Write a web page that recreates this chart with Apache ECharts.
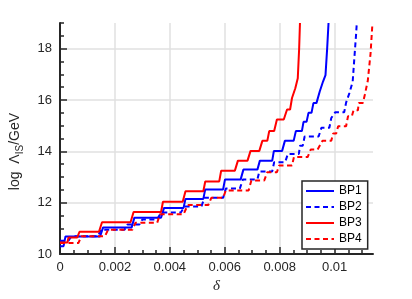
<!DOCTYPE html>
<html>
<head>
<meta charset="utf-8">
<script src="https://cdn.jsdelivr.net/npm/echarts@6/dist/echarts.min.js"></script>
<style>
html,body{margin:0;padding:0;background:#fff;}
#chart{width:412px;height:299px;}
</style>
</head>
<body>
<div id="chart"></div>
<script>
// ---- data ----
var seriesNames = ['BP1', 'BP2', 'BP3', 'BP4'];

var bp1X = [0, 0.00013, 0.0002, 0.00146, 0.00157, 0.00261, 0.00271, 0.00368, 0.00379, 0.0045, 0.00457, 0.00522, 0.00529, 0.00594, 0.00601, 0.00658, 0.00668, 0.00719, 0.00728, 0.00773, 0.00779, 0.00809, 0.00819, 0.00851, 0.00859, 0.00881, 0.00887, 0.00898, 0.00905, 0.00916, 0.00923, 0.00934, 0.00946, 0.00958, 0.00967, 0.00973, 0.00978];
var bp1Y = [10.31, 10.31, 10.69, 10.69, 11.04, 11.04, 11.42, 11.42, 11.8, 11.8, 12.15, 12.15, 12.52, 12.52, 12.91, 12.91, 13.29, 13.29, 13.64, 13.64, 14.02, 14.02, 14.41, 14.41, 14.79, 14.79, 15.15, 15.15, 15.5, 15.5, 15.88, 15.88, 16.33, 16.72, 16.97, 18.0, 19.0];

var bp2X = [0, 0.00031, 0.00042, 0.00139, 0.00149, 0.00235, 0.00246, 0.00289, 0.003, 0.00354, 0.00368, 0.0044, 0.00454, 0.00515, 0.00526, 0.00594, 0.00604, 0.00655, 0.00666, 0.00719, 0.00726, 0.00773, 0.0078, 0.0082, 0.0083, 0.0087, 0.00874, 0.00884, 0.00891, 0.00942, 0.00952, 0.00981, 0.00988, 0.00995, 0.01002, 0.01035, 0.01042, 0.01054, 0.01066, 0.01072, 0.01078, 0.01081];
var bp2Y = [10.52, 10.52, 10.7, 10.7, 10.95, 10.95, 11.15, 11.15, 11.35, 11.35, 11.62, 11.62, 11.85, 11.85, 12.19, 12.19, 12.55, 12.55, 12.91, 12.91, 13.22, 13.22, 13.58, 13.58, 13.9, 13.9, 14.22, 14.22, 14.58, 14.58, 14.92, 14.92, 15.3, 15.3, 15.52, 15.52, 15.9, 16.27, 16.72, 17.62, 18.5, 19.0];

var bp3X = [0, 0.00027, 0.00031, 0.00063, 0.00071, 0.00142, 0.00153, 0.00257, 0.00268, 0.00368, 0.00375, 0.00447, 0.00457, 0.00522, 0.00529, 0.0058, 0.00587, 0.00637, 0.00648, 0.00683, 0.00694, 0.00726, 0.00737, 0.00755, 0.00762, 0.0078, 0.0079, 0.00815, 0.00827, 0.00838, 0.00845, 0.00857, 0.00866, 0.00871, 0.00874];
var bp3Y = [10.45, 10.45, 10.65, 10.65, 10.87, 10.87, 11.24, 11.24, 11.64, 11.64, 12.04, 12.04, 12.45, 12.45, 12.83, 12.83, 13.25, 13.25, 13.64, 13.64, 14.02, 14.02, 14.41, 14.41, 14.79, 14.79, 15.24, 15.24, 15.63, 15.63, 16.08, 16.46, 16.85, 18.0, 19.0];

var bp4X = [0, 0.00067, 0.00078, 0.00164, 0.00175, 0.00264, 0.00275, 0.00354, 0.00364, 0.0045, 0.00465, 0.0054, 0.00551, 0.00594, 0.00604, 0.00687, 0.00697, 0.00744, 0.00755, 0.0079, 0.00798, 0.00845, 0.00852, 0.00902, 0.00913, 0.00938, 0.00956, 0.00988, 0.00995, 0.01006, 0.01013, 0.01042, 0.01049, 0.01063, 0.01069, 0.01085, 0.01088, 0.01103, 0.0111, 0.01121, 0.01131, 0.01138];
var bp4Y = [10.43, 10.43, 10.7, 10.7, 10.95, 10.95, 11.22, 11.22, 11.55, 11.55, 11.91, 11.91, 12.19, 12.19, 12.48, 12.48, 12.87, 12.87, 13.19, 13.19, 13.45, 13.45, 13.78, 13.78, 14.07, 14.07, 14.41, 14.41, 14.7, 14.7, 14.98, 14.98, 15.37, 15.37, 15.6, 15.6, 15.88, 15.88, 16.2, 16.75, 17.8, 19.0];

var xTickLabels = [0, 0.002, 0.004, 0.006, 0.008, 0.01];
var xMinorTicks = [0.0005, 0.001, 0.0015, 0.0025, 0.003, 0.0035, 0.0045, 0.005, 0.0055, 0.0065, 0.007, 0.0075, 0.0085, 0.009, 0.0095, 0.0105, 0.011];
var yTickLabels = [10, 12, 14, 16, 18];
var yMinorTicks = [10.5, 11, 11.5, 12.5, 13, 13.5, 14.5, 15, 15.5, 16.5, 17, 17.5, 18.5, 19];

// ---- chart ----
function zip(xs, ys) { return xs.map(function (x, i) { return [x, ys[i]]; }); }

var axisColor = '#262626';
var gridColor = '#e0e0e0';
var fontFam = '"Liberation Sans", Arial, sans-serif';
var xMin = 0, xMax = 0.0114, yMin = 10, yMax = 19;

var chart = echarts.init(document.getElementById('chart'), null, { renderer: 'canvas' });

var lineStyles = [
  { color: '#0000ff', width: 2, type: 'solid' },
  { color: '#0000ff', width: 2, type: [5, 3.5] },
  { color: '#ff0000', width: 2, type: 'solid' },
  { color: '#ff0000', width: 2, type: [5, 3.5] }
];
var datas = [zip(bp1X, bp1Y), zip(bp2X, bp2Y), zip(bp3X, bp3Y), zip(bp4X, bp4Y)];

var series = seriesNames.map(function (n, i) {
  return {
    name: n, type: 'line', data: datas[i], showSymbol: false, symbol: 'none',
    lineStyle: lineStyles[i], itemStyle: { color: lineStyles[i].color },
    clip: true, animation: false, xAxisIndex: 0, yAxisIndex: 0
  };
});

chart.setOption({
  animation: false,
  backgroundColor: '#fff',
  grid: { left: 54, top: 23, right: 39, bottom: 43, containLabel: false },
  legend: {
    data: seriesNames, orient: 'vertical', left: 302, top: 181,
    itemWidth: 28, itemHeight: 12, itemGap: 4,
    padding: [4, 6, 4, 3],
    borderColor: axisColor, borderWidth: 1.5, backgroundColor: '#fff',
    textStyle: { fontSize: 12, color: '#000', fontFamily: fontFam },
    itemStyle: { opacity: 0, borderWidth: 0 }
  },
  xAxis: [{
    type: 'value', min: xMin, max: xMax, position: 'bottom',
    name: 'δ', nameLocation: 'middle', nameGap: 23,
    nameTextStyle: { fontSize: 15, fontStyle: 'italic', fontFamily: '"Liberation Serif", "DejaVu Serif", serif', color: axisColor },
    axisLine: { show: true, onZero: false, lineStyle: { color: axisColor, width: 2 } },
    axisTick: { show: true, inside: true, length: 7, customValues: xTickLabels, lineStyle: { color: axisColor, width: 1.5 } },
    axisLabel: { show: true, customValues: xTickLabels, margin: 7, fontSize: 13, color: axisColor, fontFamily: fontFam,
      formatter: function (v) { return String(+v.toFixed(4)); } },
    splitLine: { show: true, lineStyle: { color: gridColor, width: 1.5 } }
  }, {
    type: 'value', min: xMin, max: xMax, position: 'bottom', offset: 0,
    axisLine: { show: false },
    axisTick: { show: true, inside: true, length: 4, customValues: xMinorTicks, lineStyle: { color: axisColor, width: 1.5 } },
    axisLabel: { show: false },
    splitLine: { show: false }
  }],
  yAxis: [{
    type: 'value', min: yMin, max: yMax, position: 'left',
    name: '{a|log  Λ}{s|IS}{a|/GeV}', nameLocation: 'middle', nameGap: 35, nameRotate: 90,
    nameTextStyle: {
      color: axisColor, fontFamily: fontFam, padding: [0, 26, 0, 0],
      rich: {
        a: { fontSize: 14, lineHeight: 20, color: axisColor, fontFamily: fontFam },
        s: { fontSize: 10, lineHeight: 20, verticalAlign: 'bottom', color: axisColor, fontFamily: fontFam }
      }
    },
    axisLine: { show: true, onZero: false, lineStyle: { color: axisColor, width: 2 } },
    axisTick: { show: true, inside: true, length: 7, customValues: yTickLabels, lineStyle: { color: axisColor, width: 1.5 } },
    axisLabel: { show: true, customValues: yTickLabels, margin: 8, fontSize: 13, color: axisColor, fontFamily: fontFam },
    splitLine: { show: true, lineStyle: { color: gridColor, width: 1.5 } }
  }, {
    type: 'value', min: yMin, max: yMax, position: 'left', offset: 0,
    axisLine: { show: false },
    axisTick: { show: true, inside: true, length: 4, customValues: yMinorTicks, lineStyle: { color: axisColor, width: 1.5 } },
    axisLabel: { show: false },
    splitLine: { show: false }
  }],
  series: series
});
</script>
</body>
</html>
